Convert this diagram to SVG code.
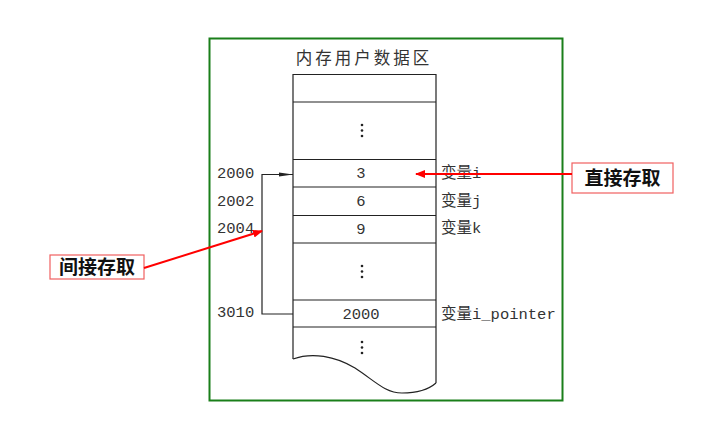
<svg xmlns="http://www.w3.org/2000/svg" width="725" height="427" viewBox="0 0 725 427">
<defs>
<style>
.cell{fill:none;stroke:#222;stroke-width:1.2}
.mono{font-family:"Liberation Mono","DejaVu Sans Mono",monospace;font-size:15.5px;fill:#333}
.cjk{font-family:"Liberation Mono","Noto Sans CJK SC",monospace;font-size:15.5px;fill:#333}
.title{font-family:"Noto Sans CJK SC",sans-serif;font-size:16.5px;fill:#333;letter-spacing:3px}
.lbl{font-family:"Noto Sans CJK SC",sans-serif;font-size:19px;font-weight:bold;fill:#111}
.lblbox{fill:#fff;stroke:#f06060;stroke-width:1.2}
.red{stroke:#f00;stroke-width:2;fill:none}
.blk{stroke:#222;stroke-width:1.2;fill:none}
.dot{fill:#222}
</style>
<marker id="ra" viewBox="0 0 10 10" refX="9" refY="5" markerWidth="5" markerHeight="5" orient="auto"><path d="M0,1 L10,5 L0,9 Z" fill="#f00"/></marker>
<marker id="ba" viewBox="0 0 10 10" refX="10" refY="5" markerWidth="14" markerHeight="5" orient="auto" markerUnits="userSpaceOnUse" preserveAspectRatio="none"><path d="M0,1 L10,5 L0,9 Z" fill="#222"/></marker>
</defs>
<rect x="209.5" y="38.5" width="353" height="362" fill="none" stroke="#1a7f1a" stroke-width="2"/>
<text class="title" x="364" y="64" text-anchor="middle">内存用户数据区</text>
<g id="memory">
<path class="cell" d="M293,359 L293,74.5 L436,74.5 L436,383"/>
<path class="cell" d="M293,359 C312,352 335,356 355,368 C375,381 385,393 402,393 C418,393 428,390 436,383"/>
<line class="cell" x1="293" y1="102" x2="436" y2="102"/>
<line class="cell" x1="293" y1="159.5" x2="436" y2="159.5"/>
<line class="cell" x1="293" y1="187" x2="436" y2="187"/>
<line class="cell" x1="293" y1="215.5" x2="436" y2="215.5"/>
<line class="cell" x1="293" y1="243" x2="436" y2="243"/>
<line class="cell" x1="293" y1="300" x2="436" y2="300"/>
<line class="cell" x1="293" y1="327" x2="436" y2="327"/>
<circle class="dot" cx="362" cy="125" r="1.3"/><circle class="dot" cx="362" cy="130.5" r="1.3"/><circle class="dot" cx="362" cy="136" r="1.3"/>
<circle class="dot" cx="362" cy="266" r="1.3"/><circle class="dot" cx="362" cy="271.5" r="1.3"/><circle class="dot" cx="362" cy="277" r="1.3"/>
<circle class="dot" cx="362" cy="342" r="1.3"/><circle class="dot" cx="362" cy="347.5" r="1.3"/><circle class="dot" cx="362" cy="353" r="1.3"/>
</g>
<g id="cell-i"><text class="mono" x="361" y="178" text-anchor="middle">3</text><text class="mono" x="217" y="178">2000</text><text class="cjk" x="441" y="178">变量i</text></g>
<g id="cell-j"><text class="mono" x="361" y="206" text-anchor="middle">6</text><text class="mono" x="217" y="206">2002</text><text class="cjk" x="441" y="206">变量j</text></g>
<g id="cell-k"><text class="mono" x="361" y="234" text-anchor="middle">9</text><text class="mono" x="217" y="233">2004</text><text class="cjk" x="441" y="233">变量k</text></g>
<g id="cell-ptr"><text class="mono" x="361" y="319" text-anchor="middle">2000</text><text class="mono" x="217" y="317">3010</text><text class="cjk" x="441" y="319">变量i_pointer</text></g>
<g id="label-direct"><rect class="lblbox" x="572" y="163" width="101" height="30"/><text class="lbl" x="622.5" y="185" text-anchor="middle">直接存取</text></g>
<g id="label-indirect"><rect class="lblbox" x="50" y="255" width="94" height="24"/><text class="lbl" x="97" y="274" text-anchor="middle">间接存取</text></g>
<g id="connectors">
<path class="blk" d="M293,314 L262,314 L262,174.5 L293,174.5" marker-end="url(#ba)"/>
<line class="red" x1="572" y1="174" x2="416" y2="174" marker-end="url(#ra)"/>
<line class="red" x1="144" y1="268" x2="262" y2="231" marker-end="url(#ra)"/>
</g>
</svg>
